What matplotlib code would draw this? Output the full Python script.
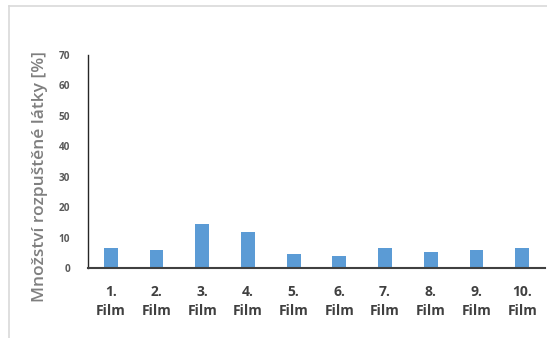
import numpy as np
import matplotlib.pyplot as plt
from matplotlib.lines import Line2D

plt.rcParams['font.family'] = ['Open Sans', 'DejaVu Sans']

# rozpuštěné množství pro jednotlivé filmy
filmy = ['1.\nFilm', '2.\nFilm', '3.\nFilm', '4.\nFilm', '5.\nFilm',
         '6.\nFilm', '7.\nFilm', '8.\nFilm', '9.\nFilm', '10.\nFilm']
hodnoty = [6.5, 5.9, 14.4, 11.9, 4.7, 4.0, 6.5, 5.4, 5.9, 6.5]
y_ticks = [0, 10, 20, 30, 40, 50, 60, 70]

W, H = 547, 338
fig = plt.figure(figsize=(W / 100, H / 100), dpi=100)
ax = fig.add_axes([88 / W, 1 - 268 / H, 457 / W, 213 / H])

x = np.arange(len(filmy))
ax.bar(x, hodnoty, width=0.3, color='#5B9BD5')

ax.set_xlim(-0.5, len(filmy) - 0.5)
ax.set_ylim(0, 70)
ax.set_yticks(y_ticks)
ax.set_yticklabels([str(t) for t in y_ticks], fontsize=7.2,
                   fontweight='bold', color='#595959')
ax.set_xticks(x)
ax.set_xticklabels(filmy, fontsize=10, fontweight='bold', color='#404040',
                   linespacing=1.5)
ax.tick_params(axis='y', length=0, pad=13)
ax.tick_params(axis='x', length=0, pad=12)

for s in ['top', 'right']:
    ax.spines[s].set_visible(False)
ax.spines['left'].set_color('#262626')
ax.spines['bottom'].set_color('#404040')
ax.spines['left'].set_linewidth(1.0)
ax.spines['bottom'].set_linewidth(1.5)

fig.text(40 / W, 1 - 177 / H, 'Množství rozpuštěné látky [%]', rotation=90,
         ha='center', va='center', fontsize=12.5, fontweight='semibold',
         color='#7f7f7f')

# šedý rámeček grafu
fig.add_artist(Line2D([9 / W, 1], [1 - 6 / H, 1 - 6 / H],
                      transform=fig.transFigure, color='#d9d9d9', lw=1.2))
fig.add_artist(Line2D([9 / W, 9 / W], [0, 1 - 6 / H],
                      transform=fig.transFigure, color='#d9d9d9', lw=1.2))

fig.savefig('out.png', dpi=100)
